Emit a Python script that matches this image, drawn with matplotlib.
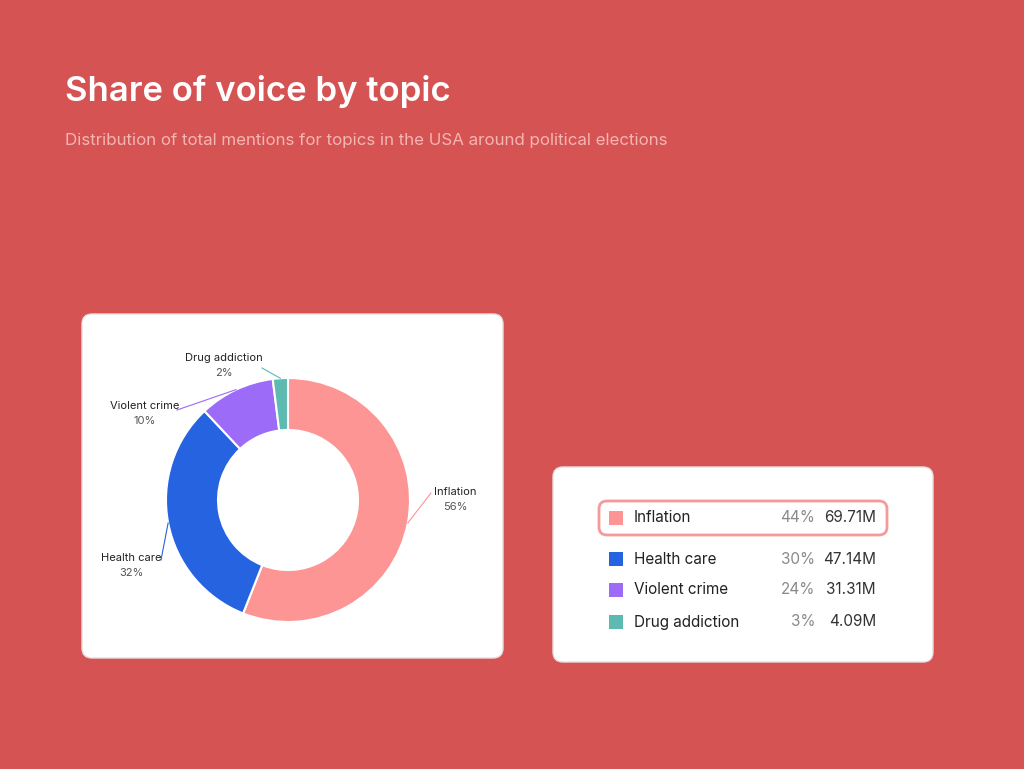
import numpy as np
import matplotlib.pyplot as plt
from matplotlib.patches import FancyBboxPatch

# chart data
topics = ["Inflation", "Health care", "Violent crime", "Drug addiction"]
pie_share = [56, 32, 10, 2]
legend_share = ["44%", "30%", "24%", "3%"]
mentions = ["69.71M", "47.14M", "31.31M", "4.09M"]
colors = ["#FC9594", "#2563E0", "#9C6BF7", "#5DBAB0"]

BG = "#D65353"
W, H = 1024, 769

plt.rcParams['font.family'] = ['Inter', 'DejaVu Sans']
fig = plt.figure(figsize=(W / 100, H / 100), dpi=100, facecolor=BG)

# full-figure overlay in pixel coords (y down)
bg = fig.add_axes([0, 0, 1, 1])
bg.set_xlim(0, W)
bg.set_ylim(H, 0)
bg.axis("off")

bg.text(65, 92, "Share of voice by topic", color="white", fontsize=25,
        fontweight="semibold", va="center")
bg.text(65, 141, "Distribution of total mentions for topics in the USA around political elections",
        color="#F4B5B3", fontsize=12.2, va="center")

# cards
for x0, y0, x1, y1 in [(82, 314, 503, 658), (553, 467, 933, 662)]:
    bg.add_patch(FancyBboxPatch((x0, y0), x1 - x0, y1 - y0,
                                boxstyle="round,pad=0,rounding_size=10",
                                fc="white", ec="#E8E0E0", lw=1))

# highlighted row
bg.add_patch(FancyBboxPatch((599, 501), 288, 34, boxstyle="round,pad=0,rounding_size=8",
                            fc="white", ec="#F49A9A", lw=2))

row_y = [518, 559, 590, 622]
for i, t in enumerate(topics):
    y = row_y[i]
    bg.add_patch(plt.Rectangle((609, y - 7), 14, 14, fc=colors[i], ec="none"))
    bg.text(634, y, t, fontsize=11, color="#222222", va="center")
    bg.text(815, y, legend_share[i], fontsize=11, color="#8A8A8A", va="center", ha="right")
    bg.text(876, y, mentions[i], fontsize=11, color="#333333", va="center", ha="right")

# donut in pixel coords of the left card
ax = fig.add_axes([82 / W, (H - 658) / H, 421 / W, 344 / H])
cx, cy, R = 206, 158, 122
ax.pie(pie_share, colors=colors, startangle=90, counterclock=False,
       center=(cx, cy), radius=R, frame=True,
       wedgeprops=dict(width=52, edgecolor="white", linewidth=1.5))
ax.set_xlim(0, 421)
ax.set_ylim(0, 344)
ax.set_aspect("equal")
ax.axis("off")

# label centres in card coords, and where each leader line ends
label_pos = [(373, 158), (49, 92), (63, 244), (142, 292)]
line_end = [(349, 165), (79, 98), (95, 248), (180, 290)]
start = 90.0
for i, v in enumerate(pie_share):
    mid = np.deg2rad(start - v * 3.6 / 2)
    start -= v * 3.6
    px, py = cx + R * np.cos(mid), cy + R * np.sin(mid)
    tx, ty = label_pos[i]
    ax.plot([px, line_end[i][0]], [py, line_end[i][1]], color=colors[i], lw=0.8)
    ax.text(tx, ty + 8, topics[i], fontsize=8, color="#222222", ha="center", va="center")
    ax.text(tx, ty - 7, f"{v}%", fontsize=8, color="#555555", ha="center", va="center")

fig.savefig("out.png", dpi=100, facecolor=BG)
